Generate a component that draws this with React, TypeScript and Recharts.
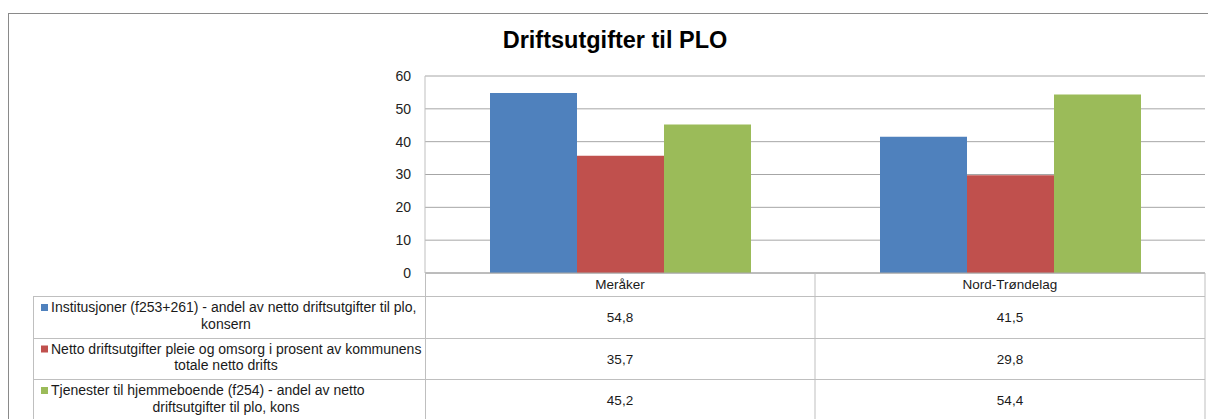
import React from 'react'
import { BarChart, Bar, XAxis, YAxis, CartesianGrid } from 'recharts'

const categories = ['Meråker', 'Nord-Trøndelag']
const institusjoner = [54.8, 41.5]
const nettoDrift = [35.7, 29.8]
const hjemmeboende = [45.2, 54.4]
const yTicks = [0, 10, 20, 30, 40, 50, 60]

const seriesNames = [
  ['Institusjoner (f253+261) - andel av netto driftsutgifter til plo,', 'konsern'],
  ['Netto driftsutgifter pleie og omsorg i prosent av kommunens', 'totale netto drifts'],
  ['Tjenester til hjemmeboende (f254) - andel av netto', 'driftsutgifter til plo, kons'],
]
const seriesColors = ['#4f81bd', '#c0504d', '#9bbb59']
const seriesValues = [institusjoner, nettoDrift, hjemmeboende]

const data = categories.map((name, i) => ({
  name,
  inst: institusjoner[i],
  netto: nettoDrift[i],
  hjem: hjemmeboende[i],
}))

const FONT = "'Liberation Sans', Arial, sans-serif"
const W = 1208
const H = 419
const PLOT_LEFT = 425
const PLOT_RIGHT = 1205
const PLOT_TOP = 76
const PLOT_BOTTOM = 273
const Y_AXIS_W = 60
const X_AXIS_H = 30
const BAND = (PLOT_RIGHT - PLOT_LEFT) / categories.length
const TABLE_LEFT = 33
// row separators of the data table
const rowLines = [296, 338, 379, 421]
const tableLine = '#bfbfbf'

const fmt = (v: number) => v.toFixed(1).replace('.', ',')

// category column of the data table, drawn from the x axis tick position
const TableColumn = (props: any) => {
  const { x, payload } = props
  const idx = payload.index
  return (
    <g>
      <line x1={x + BAND / 2} x2={x + BAND / 2} y1={PLOT_BOTTOM} y2={H} stroke={tableLine} />
      <text x={x} y={289} textAnchor="middle" fontSize={13.5} fill="#1a1a1a" fontFamily={FONT}>
        {payload.value}
      </text>
      {seriesValues.map((vals, s) => {
        const cy = (rowLines[s] + rowLines[s + 1]) / 2
        return (
          <text key={s} x={x} y={cy + 5} textAnchor="middle" fontSize={13.5} fill="#1a1a1a" fontFamily={FONT}>
            {fmt(vals[idx])}
          </text>
        )
      })}
    </g>
  )
}

export default function App() {
  return (
    <div style={{ position: 'absolute', left: 0, top: 0, width: W, height: H, overflow: 'hidden', background: '#fff' }}>
      {/* outer chart border */}
      <div style={{ position: 'absolute', left: 8, top: 13, width: W, height: H, border: '1px solid #8a8a8a' }} />
      <div
        style={{
          position: 'absolute', left: 0, top: 27, width: 1230, textAlign: 'center',
          fontFamily: FONT, fontWeight: 'bold', fontSize: 23.5, color: '#000',
        }}
      >
        Driftsutgifter til PLO
      </div>
      <div style={{ position: 'absolute', left: 0, top: 0 }}>
        <BarChart
          width={W}
          height={H}
          data={data}
          margin={{ top: PLOT_TOP, right: W - PLOT_RIGHT, left: PLOT_LEFT - Y_AXIS_W, bottom: H - PLOT_BOTTOM - X_AXIS_H }}
          barCategoryGap={65}
          barGap={0}
        >
          <CartesianGrid vertical={false} stroke="#a6a6a6" />
          <XAxis
            dataKey="name"
            height={X_AXIS_H}
            axisLine={{ stroke: '#a6a6a6' }}
            tickLine={false}
            interval={0}
            tick={<TableColumn />}
          />
          <YAxis
            width={Y_AXIS_W}
            domain={[0, 60]}
            ticks={yTicks}
            axisLine={{ stroke: '#bfbfbf' }}
            tickLine={false}
            tickMargin={8}
            tick={{ fill: '#222', fontSize: 14, fontFamily: FONT }}
          />
          <Bar dataKey="inst" fill={seriesColors[0]} isAnimationActive={false} />
          <Bar dataKey="netto" fill={seriesColors[1]} isAnimationActive={false} />
          <Bar dataKey="hjem" fill={seriesColors[2]} isAnimationActive={false} />
        </BarChart>
      </div>
      {/* legend column and row lines of the data table */}
      <svg width={W} height={H} style={{ position: 'absolute', left: 0, top: 0, pointerEvents: 'none' }}>
        <line x1={PLOT_LEFT + 0.5} x2={PLOT_LEFT + 0.5} y1={PLOT_BOTTOM} y2={H} stroke={tableLine} />
        <line x1={TABLE_LEFT + 0.5} x2={TABLE_LEFT + 0.5} y1={rowLines[0]} y2={H} stroke={tableLine} />
        {rowLines.slice(0, 3).map((y) => (
          <line key={y} x1={TABLE_LEFT} x2={PLOT_RIGHT} y1={y + 0.5} y2={y + 0.5} stroke={tableLine} />
        ))}
        {seriesNames.map((lines, s) => {
          const cy = (rowLines[s] + rowLines[s + 1]) / 2
          return (
            <g key={s} fontFamily={FONT} fontSize={14} fill="#1a1a1a">
              <rect x={41} y={cy - 13} width={7} height={7} fill={seriesColors[s]} />
              <text x={51} y={cy - 5}>{lines[0]}</text>
              <text x={226} y={cy + 11.5} textAnchor="middle">{lines[1]}</text>
            </g>
          )
        })}
      </svg>
    </div>
  )
}
